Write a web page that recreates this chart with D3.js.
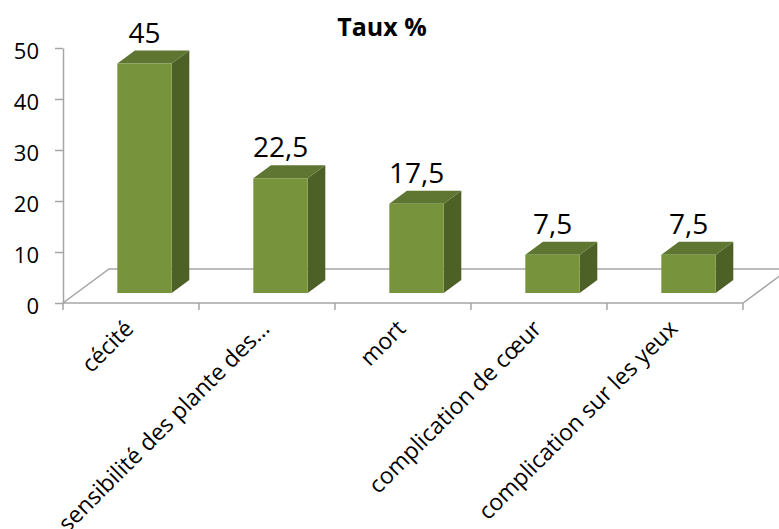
<!DOCTYPE html>
<html>
<head>
<meta charset="utf-8">
<script src="https://cdn.jsdelivr.net/npm/d3@7/dist/d3.min.js"></script>
<style>
  html, body { margin: 0; padding: 0; background: #fff; }
  svg { display: block; }
</style>
</head>
<body>
<svg id="chart" width="779" height="529"></svg>
<script>
const title = "Taux %";
const categories = ["cécité", "sensibilité des plante des…", "mort", "complication de cœur", "complication sur les yeux"];
const values = [45, 22.5, 17.5, 7.5, 7.5];
const valueLabels = ["45", "22,5", "17,5", "7,5", "7,5"];
const yTicks = [0, 10, 20, 30, 40, 50];

const W = 779, H = 529;
const svg = d3.select("#chart");
const font = "'Open Sans', 'Noto Sans', sans-serif";

const x = d3.scaleBand().domain(categories).range([63, 743]).paddingInner(0.6).paddingOuter(0.3);
const y = d3.scaleLinear().domain([0, 50]).range([303, 48]);

// oblique depth
const DX = 46, DY = -34;
const zFront = 0.294, zBack = 0.676;
const P = (px, py, z) => [px + DX * z, py + DY * z];

const gray = "#a6a6a6";

// floor
const x0 = x.range()[0], x1 = x.range()[1], yb = y(0);
const floor = [P(x0, yb, 0), P(x1, yb, 0), P(x1, yb, 1), P(x0, yb, 1)];
svg.append("path")
  .attr("d", "M" + floor.map(p => p.join(",")).join("L") + "Z")
  .attr("fill", "none").attr("stroke", gray).attr("stroke-width", 1.5);

// y axis
const yAxis = d3.axisLeft(y).tickValues(yTicks).tickSize(8).tickSizeOuter(0).tickPadding(16);
const gy = svg.append("g").attr("transform", `translate(${x0},0)`).call(yAxis);
gy.select(".domain").attr("stroke", gray).attr("stroke-width", 1.5);
gy.selectAll(".tick line").attr("stroke", gray).attr("stroke-width", 1.5);
gy.selectAll(".tick text").attr("font-family", font).attr("font-size", 22).attr("fill", "#000").attr("dy", "0.46em");

// x ticks at category boundaries
const step = x.step();
const bounds = d3.range(categories.length + 1).map(i => x0 + i * step);
svg.append("g").selectAll("line").data(bounds).join("line")
  .attr("x1", d => d).attr("x2", d => d).attr("y1", yb).attr("y2", yb + 7)
  .attr("stroke", gray).attr("stroke-width", 1.5);

// bars
const colFront = "#77933c", colSide = "#4d6126", colTop = "#5e7631";
const data = categories.map((c, i) => ({ c, v: values[i], lab: valueLabels[i] }));
const gb = svg.append("g");
data.forEach(d => {
  const l = x(d.c), r = x(d.c) + x.bandwidth();
  const t = y(d.v), b = y(0);
  const fLT = P(l, t, zFront), fRT = P(r, t, zFront), fRB = P(r, b, zFront), fLB = P(l, b, zFront);
  const bLT = P(l, t, zBack), bRT = P(r, t, zBack), bRB = P(r, b, zBack);
  const poly = pts => "M" + pts.map(p => p.join(",")).join("L") + "Z";
  gb.append("path").attr("d", poly([fRT, bRT, bRB, fRB])).attr("fill", colSide);
  gb.append("path").attr("d", poly([fLT, bLT, bRT, fRT])).attr("fill", colTop);
  gb.append("path").attr("d", poly([fLT, fRT, fRB, fLB])).attr("fill", colFront);
  svg.append("text")
    .attr("x", (fLT[0] + fRT[0]) / 2).attr("y", bLT[1] - 8)
    .attr("text-anchor", "middle").attr("font-family", font).attr("font-size", 28).attr("fill", "#000")
    .text(d.lab);
});

// category labels
svg.append("g").selectAll("text").data(categories).join("text")
  .attr("transform", d => `translate(${x(d) + x.bandwidth() / 2 + 4},${yb + 27}) rotate(-45)`)
  .attr("text-anchor", "end").attr("font-family", font).attr("font-size", 23).attr("fill", "#000")
  .text(d => d);

// title
svg.append("text").attr("x", 382).attr("y", 36).attr("text-anchor", "middle")
  .attr("font-family", font).attr("font-weight", "bold").attr("font-size", 25).attr("fill", "#000")
  .text(title);
</script>
</body>
</html>
